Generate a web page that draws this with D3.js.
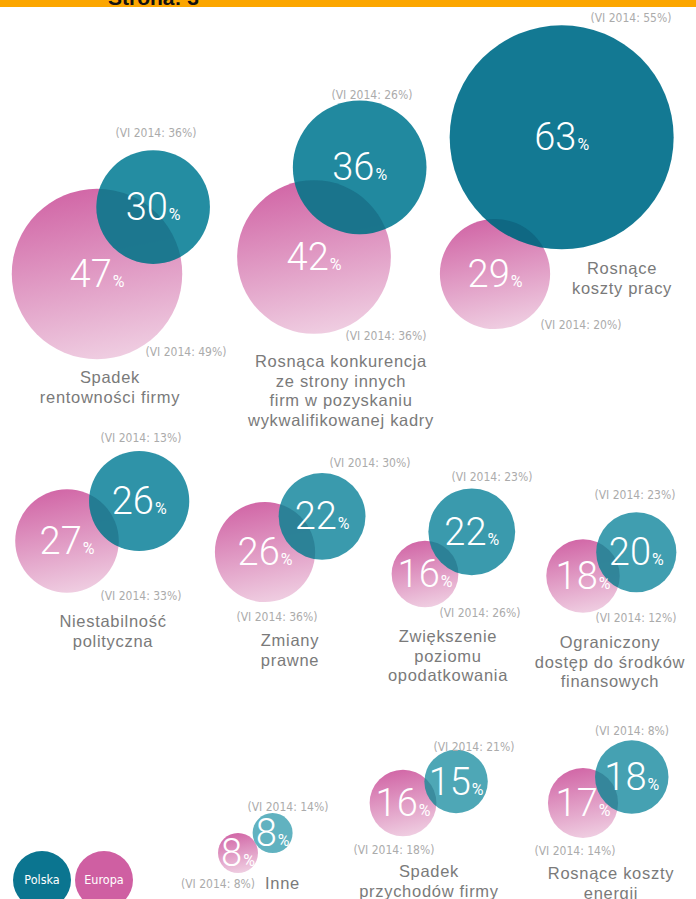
<!DOCTYPE html>
<html><head><meta charset="utf-8">
<script src="https://cdn.jsdelivr.net/npm/d3@7/dist/d3.min.js"></script>
<style>
html,body{margin:0;padding:0;background:#fff;}
svg{display:block;}
</style></head>
<body>
<script>
// ---------- DATA ----------
const categories = [
  ["Spadek", "rentowności firmy"],
  ["Rosnąca konkurencja", "ze strony innych", "firm w pozyskaniu", "wykwalifikowanej kadry"],
  ["Rosnące", "koszty pracy"],
  ["Niestabilność", "polityczna"],
  ["Zmiany", "prawne"],
  ["Zwiększenie", "poziomu", "opodatkowania"],
  ["Ograniczony", "dostęp do środków", "finansowych"],
  ["Inne"],
  ["Spadek", "przychodów firmy"],
  ["Rosnące koszty", "energii"]
];
const polska      = [30, 36, 63, 26, 22, 22, 20, 8, 15, 18];
const europa      = [47, 42, 29, 27, 26, 16, 18, 8, 16, 17];
const polskaPrev  = [36, 26, 55, 13, 30, 23, 23, 14, 21, 8];
const europaPrev  = [49, 36, 20, 33, 36, 26, 12, 8, 18, 14];
const seriesNames = ["Polska", "Europa"];
const prevLabel = v => `(VI 2014: ${v}%)`;
const headerText = "Strona: 3";

// ---------- LAYOUT (positions only) ----------
// ax, ay: Europa circle centre; ang: direction to Polska circle (deg); k: distance / (rA+rB)
// tp: Polska prev label [x, y, anchor]; ep: Europa prev label; tl: title [x, y, anchor]
const layout = [
  {ax: 97,  ay: 274, ang: -50, k: 0.615, tp: [156, 137, "middle"], ep: [186, 356, "middle"], tl: [110, 383, "middle"]},
  {ax: 314, ay: 257, ang: -63, k: 0.70,  tp: [372, 99, "middle"],  ep: [386, 340, "middle"], tl: [341, 367, "middle"]},
  {ax: 495, ay: 274, ang: -64, k: 0.91,  tp: [631, 22, "middle"],  ep: [581, 329, "middle"], tl: [622, 274, "middle"]},
  {ax: 67,  ay: 541, ang: -29, k: 0.81,  tp: [141, 442, "middle"], ep: [141, 600, "middle"], tl: [113, 627, "middle"]},
  {ax: 265, ay: 552, ang: -32, k: 0.72,  tp: [370, 467, "middle"], ep: [277, 621, "middle"], tl: [290, 646, "middle"]},
  {ax: 425, ay: 574, ang: -42, k: 0.82,  tp: [492, 481, "middle"], ep: [480, 617, "middle"], tl: [448, 642, "middle"]},
  {ax: 583, ay: 576, ang: -24, k: 0.76,  tp: [635, 499, "middle"], ep: [636, 622, "middle"], tl: [610, 648, "middle"]},
  {ax: 238, ay: 853, ang: -30, k: 1.0,   tp: [288, 811, "middle"], ep: [218, 888, "middle"], tl: [265, 889, "start"]},
  {ax: 403, ay: 803, ang: -22, k: 0.88,  tp: [474, 751, "middle"], ep: [394, 854, "middle"], tl: [429, 877, "middle"]},
  {ax: 583, ay: 803, ang: -28, k: 0.77,  tp: [632, 735, "middle"], ep: [575, 855, "middle"], tl: [611, 879, "middle"]}
];
const legendPos = [[42, 880], [104, 880]];

// ---------- SCALES ----------
const W = 696, H = 899;
const rScale = d3.scaleLinear().domain([0, 63]).range([6.6, 112]);
const tealColor = d3.scaleLinear().domain([8, 30, 63]).range(["#5cb0be", "#1d899f", "#0b7590"]);
const teal = "#0b7590", pink = "#cf5fa2";

const svg = d3.select("body").append("svg").attr("width", W).attr("height", H);
const defs = svg.append("defs");
const grad = defs.append("linearGradient").attr("id", "pinkGrad")
  .attr("x1", 0.35).attr("y1", 0).attr("x2", 0.55).attr("y2", 1);
grad.append("stop").attr("offset", 0).attr("stop-color", "#d166a6");
grad.append("stop").attr("offset", 1).attr("stop-color", "#efcde1");

// header bar
defs.append("clipPath").attr("id", "hdrClip").append("rect").attr("width", W).attr("height", 7);
svg.append("rect").attr("width", W).attr("height", 7).attr("fill", "#fca600");
svg.append("text").attr("clip-path", "url(#hdrClip)")
  .attr("x", 108).attr("y", 5)
  .attr("font-family", "Liberation Sans, Arial, sans-serif").attr("font-weight", "bold")
  .attr("font-size", 21).attr("fill", "#111").text(headerText);

const numFont = "Roboto, 'Open Sans', sans-serif";
const narrow = "'Liberation Sans Narrow', 'DejaVu Sans Condensed', sans-serif";

const groups = categories.map((c, i) => {
  const L = layout[i];
  const rE = rScale(europa[i]), rP = rScale(polska[i]);
  const d = L.k * (rE + rP), a = L.ang * Math.PI / 180;
  return {i, L, rE, rP, ex: L.ax, ey: L.ay, px: L.ax + d * Math.cos(a), py: L.ay + d * Math.sin(a)};
});

const g = svg.selectAll("g.grp").data(groups).join("g").attr("class", "grp");

g.each(function(d) {
  defs.append("clipPath").attr("id", "clipE" + d.i)
    .append("circle").attr("cx", d.ex).attr("cy", d.ey).attr("r", d.rE);
});

g.append("circle").attr("cx", d => d.ex).attr("cy", d => d.ey).attr("r", d => d.rE)
  .attr("fill", "url(#pinkGrad)");
g.append("circle").attr("cx", d => d.px).attr("cy", d => d.py).attr("r", d => d.rP)
  .attr("fill", d => tealColor(polska[d.i])).attr("fill-opacity", 0.97);
g.append("circle").attr("cx", d => d.px).attr("cy", d => d.py).attr("r", d => d.rP)
  .attr("clip-path", d => `url(#clipE${d.i})`)
  .attr("fill", "#08455c").attr("fill-opacity", 0.25);

function numLabel(sel, xf, yf, vf) {
  const t = sel.append("text").attr("x", xf).attr("y", yf)
    .attr("text-anchor", "middle").attr("fill", "#fff")
    .attr("font-family", numFont).attr("font-weight", 300).attr("font-size", 38);
  t.append("tspan").text(vf);
  t.append("tspan").attr("font-size", 16).attr("font-weight", 400).attr("dx", 1).text("%");
}
numLabel(g, d => d.ex, d => d.ey + 13, d => europa[d.i]);
numLabel(g, d => d.px, d => d.py + 13, d => polska[d.i]);

// previous-wave labels
g.append("text").attr("x", d => d.L.tp[0]).attr("y", d => d.L.tp[1]).attr("text-anchor", d => d.L.tp[2])
  .attr("font-family", narrow).attr("font-size", 12).attr("fill", "#ababab")
  .text(d => prevLabel(polskaPrev[d.i]));
g.append("text").attr("x", d => d.L.ep[0]).attr("y", d => d.L.ep[1]).attr("text-anchor", d => d.L.ep[2])
  .attr("font-family", narrow).attr("font-size", 12).attr("fill", "#ababab")
  .text(d => prevLabel(europaPrev[d.i]));

// titles
g.append("text").attr("text-anchor", d => d.L.tl[2])
  .attr("font-family", "'Liberation Sans', Arial, sans-serif").attr("font-size", 16.5)
  .attr("letter-spacing", 0.7).attr("fill", "#7a7a7a")
  .each(function(d) {
    d3.select(this).selectAll("tspan").data(categories[d.i]).join("tspan")
      .attr("x", d.L.tl[0]).attr("y", (s, j) => d.L.tl[1] + j * 19.5).text(s => s);
  });

// legend
const lg = svg.selectAll("g.leg").data(seriesNames).join("g").attr("class", "leg");
lg.append("circle").attr("cx", (d, j) => legendPos[j][0]).attr("cy", (d, j) => legendPos[j][1]).attr("r", 29)
  .attr("fill", (d, j) => j === 0 ? teal : pink);
lg.append("text").attr("x", (d, j) => legendPos[j][0]).attr("y", (d, j) => legendPos[j][1] + 4)
  .attr("text-anchor", "middle").attr("fill", "#fff")
  .attr("font-family", narrow).attr("font-size", 12.5).text(d => d);
</script>
</body></html>
